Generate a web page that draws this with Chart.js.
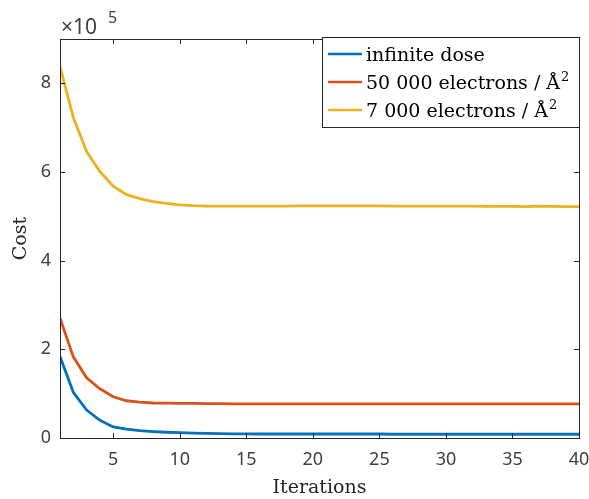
<!DOCTYPE html>
<html>
<head>
<meta charset="utf-8">
<script src="https://cdn.jsdelivr.net/npm/chart.js@4.4.0/dist/chart.umd.min.js"></script>
<style>
  html, body { margin: 0; padding: 0; background: #fff; }
  #wrap { width: 589px; height: 499px; }
</style>
</head>
<body>
<div id="wrap"><canvas id="costChart" width="589" height="499"></canvas></div>
<script>
const iterations = Array.from({length: 40}, (_, i) => i + 1);
const labels = ["infinite dose", "50 000 electrons / Å²", "7 000 electrons / Å²"];
const colors = ["#0072BD", "#D95319", "#EDB120"];

// cost values (x 1e5)
const infiniteDose = [1.84, 1.03, 0.63, 0.40, 0.25, 0.20, 0.165, 0.145, 0.13, 0.12,
    0.11, 0.105, 0.10, 0.095, 0.095, 0.09, 0.09, 0.09, 0.09, 0.09,
    0.09, 0.09, 0.09, 0.09, 0.09, 0.085, 0.085, 0.085, 0.085, 0.085,
    0.085, 0.085, 0.085, 0.085, 0.085, 0.085, 0.085, 0.085, 0.085, 0.085];
const dose50000 = [2.71, 1.83, 1.36, 1.11, 0.93, 0.84, 0.81, 0.79, 0.785, 0.78,
    0.78, 0.775, 0.775, 0.77, 0.77, 0.77, 0.77, 0.77, 0.77, 0.77,
    0.77, 0.77, 0.77, 0.77, 0.77, 0.77, 0.77, 0.77, 0.77, 0.77,
    0.77, 0.77, 0.77, 0.77, 0.77, 0.77, 0.77, 0.77, 0.77, 0.77];
const dose7000 = [8.38, 7.23, 6.46, 6.01, 5.68, 5.49, 5.40, 5.33, 5.29, 5.26,
    5.24, 5.23, 5.23, 5.23, 5.23, 5.23, 5.23, 5.23, 5.235, 5.235,
    5.235, 5.235, 5.235, 5.235, 5.235, 5.23, 5.23, 5.23, 5.23, 5.23,
    5.23, 5.23, 5.225, 5.225, 5.225, 5.22, 5.23, 5.225, 5.22, 5.22];
const seriesValues = [infiniteDose, dose50000, dose7000];

const xTicks = [5, 10, 15, 20, 25, 30, 35, 40];
const yTicks = [0, 2, 4, 6, 8];

const axisColor = "#262626";
const tickColor = "#404040";
const serif = "DejaVu Serif";

// box round the plot, ticks pointing inward, x10^5 note and legend
const matlabAxes = {
    afterDraw: (chart) => {
        const {ctx, chartArea, scales} = chart;
        const {left, right, top, bottom} = chartArea;
        ctx.save();
        ctx.strokeStyle = axisColor;
        ctx.lineWidth = 1;
        ctx.strokeRect(left + 0.5, top + 0.5, right - left, bottom - top);

        ctx.beginPath();
        xTicks.forEach(t => {
            const x = Math.round(scales.x.getPixelForValue(t)) + 0.5;
            ctx.moveTo(x, bottom); ctx.lineTo(x, bottom - 5);
            ctx.moveTo(x, top); ctx.lineTo(x, top + 5);
        });
        yTicks.forEach(t => {
            const y = Math.round(scales.y.getPixelForValue(t)) + 0.5;
            ctx.moveTo(left, y); ctx.lineTo(left + 5, y);
            ctx.moveTo(right, y); ctx.lineTo(right - 5, y);
        });
        ctx.stroke();

        // exponent
        ctx.fillStyle = tickColor;
        ctx.textBaseline = "alphabetic";
        ctx.textAlign = "left";
        ctx.font = "21px 'Noto Sans'";
        ctx.fillText("×10", left + 1, top - 5);
        ctx.font = "16px 'Noto Sans'";
        ctx.fillText("5", left + 48, top - 16);

        // legend
        const lx = 322, ly = 37, lw = right - lx, lh = 90;
        ctx.fillStyle = "#fff";
        ctx.fillRect(lx, ly, lw, lh);
        ctx.strokeStyle = axisColor;
        ctx.strokeRect(lx + 0.5, ly + 0.5, lw, lh);
        ctx.textBaseline = "alphabetic";
        chart.data.datasets.forEach((ds, i) => {
            const y = ly + 17 + i * 28;
            ctx.strokeStyle = ds.borderColor;
            ctx.lineWidth = 2.5;
            ctx.beginPath();
            ctx.moveTo(lx + 6, y);
            ctx.lineTo(lx + 40, y);
            ctx.stroke();
            ctx.fillStyle = "#000";
            const [main, sup] = ds.label.split("²");
            ctx.font = "19px '" + serif + "'";
            ctx.fillText(main, lx + 44, y + 7);
            if (sup !== undefined) {
                const w = ctx.measureText(main).width;
                ctx.font = "13px '" + serif + "'";
                ctx.fillText("2", lx + 45 + w, y - 1);
            }
        });
        ctx.restore();
    }
};

new Chart(document.getElementById("costChart"), {
    type: "line",
    data: {
        datasets: seriesValues.map((vals, i) => ({
            label: labels[i],
            data: vals.map((v, j) => ({x: iterations[j], y: v})),
            borderColor: colors[i],
            borderWidth: 2.8,
            pointRadius: 0,
            tension: 0,
            fill: false,
        }))
    },
    plugins: [matlabAxes],
    options: {
        responsive: false,
        animation: false,
        layout: {padding: {left: 0, top: 39, right: 10, bottom: 0}},
        plugins: {
            legend: {display: false},
            tooltip: {enabled: false},
        },
        scales: {
            x: {
                type: "linear",
                min: 1,
                max: 40,
                afterBuildTicks: (scale) => { scale.ticks = xTicks.map(v => ({value: v})); },
                afterFit: (scale) => { scale.height = 61; scale.paddingRight = 0; },
                grid: {display: false, drawTicks: false},
                border: {display: false},
                ticks: {
                    color: tickColor,
                    font: {family: "Noto Sans", size: 18},
                    padding: 11,
                    maxRotation: 0,
                },
                title: {
                    display: true,
                    text: "Iterations",
                    color: "#262626",
                    font: {family: serif, size: 19},
                    padding: {top: 0, bottom: 0},
                },
            },
            y: {
                type: "linear",
                min: 0,
                max: 9,
                afterBuildTicks: (scale) => { scale.ticks = yTicks.map(v => ({value: v})); },
                afterFit: (scale) => { scale.width = 60; },
                grid: {display: false, drawTicks: false},
                border: {display: false},
                ticks: {
                    color: tickColor,
                    font: {family: "Noto Sans", size: 18},
                    padding: 9,
                },
                title: {
                    display: true,
                    text: "Cost",
                    color: "#262626",
                    font: {family: serif, size: 19},
                    padding: {top: 10, bottom: 0},
                },
            },
        },
    },
});
</script>
</body>
</html>
